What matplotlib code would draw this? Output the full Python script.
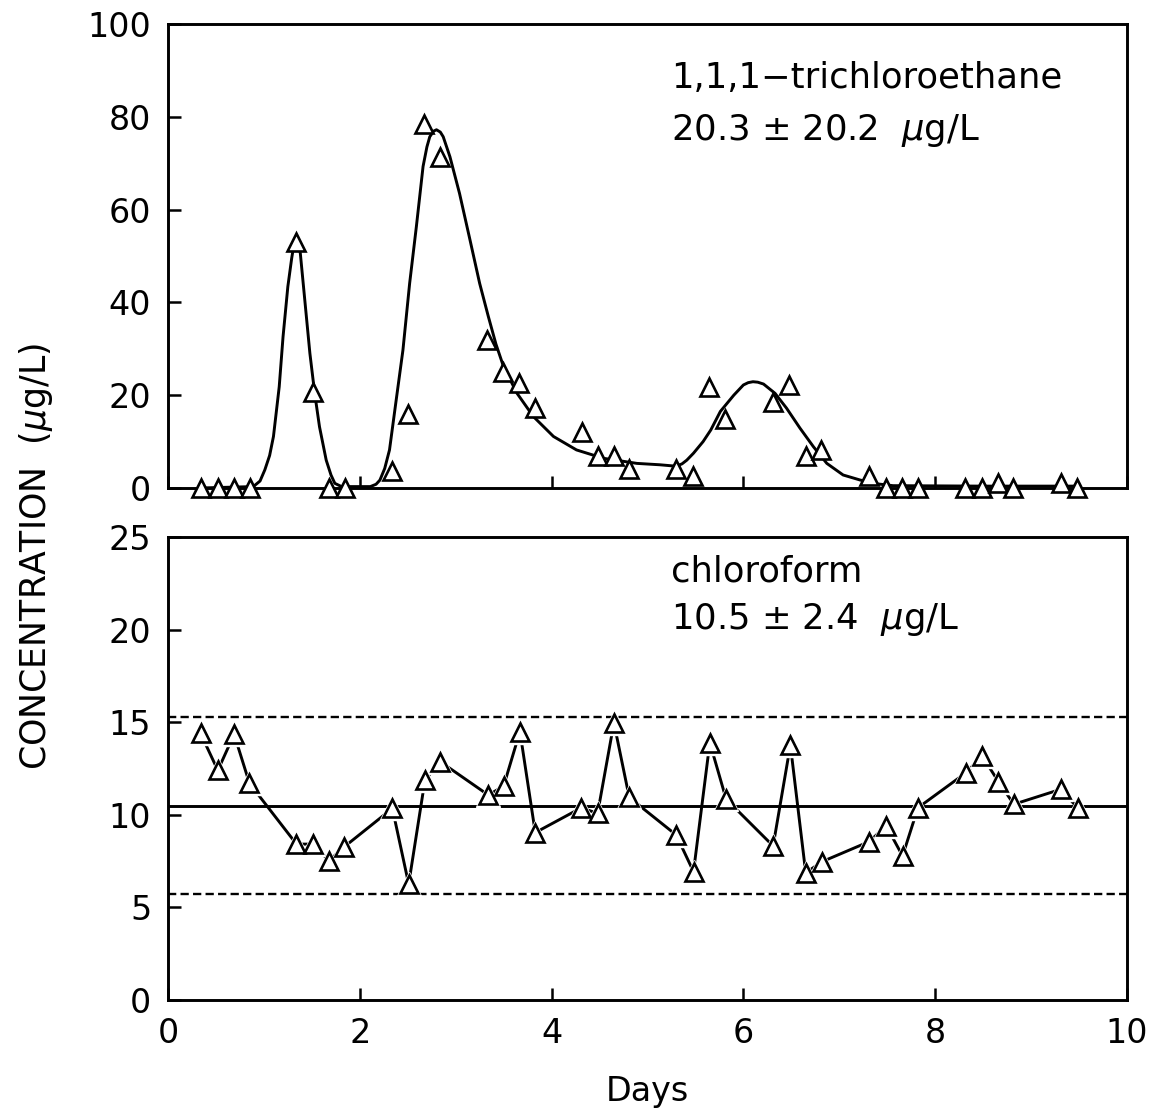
import matplotlib
matplotlib.use("Agg")
import matplotlib.pyplot as plt

# --- 1,1,1-trichloroethane: measured concentrations (ug/L) ---
tca_days = [0.34, 0.52, 0.69, 0.86, 1.33, 1.51, 1.68, 1.85, 2.34, 2.50,
            2.67, 2.84, 3.33, 3.49, 3.66, 3.83, 4.32, 4.48, 4.65, 4.81,
            5.30, 5.47, 5.64, 5.81, 6.31, 6.48, 6.65, 6.81, 7.31, 7.49,
            7.65, 7.82, 8.31, 8.49, 8.65, 8.81, 9.31, 9.48]
tca_conc = [0.0, 0.0, 0.0, 0.0, 53.0, 20.7, 0.0, 0.0, 3.7, 15.9,
            78.4, 71.3, 31.9, 25.0, 22.6, 17.2, 12.1, 6.9, 6.9, 4.1,
            4.1, 2.6, 21.8, 14.9, 18.5, 22.2, 6.9, 8.2, 2.6, 0.0,
            0.0, 0.0, 0.0, 0.0, 1.0, 0.0, 1.0, 0.0]

# --- 1,1,1-trichloroethane: fitted curve ---
fit_days = [0.34, 0.89, 0.96, 1.01, 1.06, 1.10, 1.16, 1.20, 1.25, 1.29,
            1.31, 1.33, 1.35, 1.38, 1.43, 1.48, 1.53, 1.58, 1.65, 1.70,
            1.74, 1.81, 2.11, 2.17, 2.21, 2.26, 2.31, 2.38, 2.45, 2.52,
            2.59, 2.66, 2.70, 2.73, 2.77, 2.80, 2.84, 2.87, 2.94, 3.04,
            3.15, 3.25, 3.34, 3.42, 3.50, 3.64, 3.81, 4.02, 4.26, 4.54,
            4.89, 5.13, 5.24, 5.30, 5.36, 5.41, 5.48, 5.58, 5.66, 5.76,
            5.90, 6.00, 6.05, 6.10, 6.15, 6.21, 6.33, 6.45, 6.59, 6.73,
            6.87, 7.04, 7.22, 7.39, 7.56, 8.50, 9.50]
fit_conc = [0.0, 0.3, 1.5, 3.9, 7.0, 11.1, 21.8, 32.6, 43.4, 49.5,
            52.0, 53.3, 52.8, 50.6, 39.8, 29.0, 20.4, 13.2, 6.0, 2.8,
            1.0, 0.3, 0.3, 0.8, 1.7, 4.2, 8.2, 19.0, 29.7, 44.1,
            56.3, 69.3, 73.5, 75.7, 76.9, 77.2, 76.7, 75.7, 71.4, 63.5,
            53.4, 44.1, 37.0, 31.0, 26.1, 20.4, 15.4, 11.1, 8.2, 6.4,
            5.3, 5.0, 4.8, 4.7, 5.2, 6.0, 7.5, 10.0, 12.5, 16.5,
            20.0, 22.2, 22.7, 22.9, 22.8, 22.4, 20.4, 17.2, 12.9, 8.9,
            5.3, 2.8, 1.7, 0.9, 0.5, 0.4, 0.4]

# --- chloroform: measured concentrations (ug/L) ---
chl_days = [0.34, 0.52, 0.69, 0.85, 1.34, 1.51, 1.68, 1.84, 2.34, 2.51,
            2.68, 2.84, 3.34, 3.50, 3.67, 3.83, 4.31, 4.48, 4.65, 4.81,
            5.30, 5.48, 5.65, 5.82, 6.31, 6.49, 6.65, 6.82, 7.31, 7.49,
            7.66, 7.82, 8.32, 8.49, 8.66, 8.82, 9.31, 9.49]
chl_conc = [14.4, 12.4, 14.35, 11.7, 8.42, 8.42, 7.52, 8.28, 10.35, 6.26,
            11.88, 12.87, 11.07, 11.55, 14.5, 9.04, 10.38, 10.08, 14.97, 10.94,
            8.91, 6.93, 13.9, 10.85, 8.32, 13.77, 6.87, 7.47, 8.55, 9.4,
            7.78, 10.38, 12.27, 13.17, 11.79, 10.57, 11.38, 10.35]

# Summary statistics (mean, standard deviation)
tca_mean, tca_sd = 20.3, 20.2
chl_mean, chl_sd = 10.5, 2.4

top_yticks = [0, 20, 40, 60, 80, 100]
bot_yticks = [0, 5, 10, 15, 20, 25]
xticks = [0, 2, 4, 6, 8, 10]

plt.rcParams["font.family"] = ["DejaVu Sans"]
plt.rcParams["mathtext.fontset"] = "dejavusans"

fig = plt.figure(figsize=(11.52, 11.2), dpi=100)
ax1 = fig.add_axes([0.1458, 0.5643, 0.8325, 0.4143])
ax2 = fig.add_axes([0.1458, 0.1071, 0.8325, 0.4134])

LW = 2.1
marker_kw = dict(marker="^", ms=12.5, mfc="white", mec="black", mew=1.9, ls="none")

# Top panel: fitted curve and measurements
ax1.plot(fit_days, fit_conc, color="black", lw=LW, zorder=2,
         solid_joinstyle="round")
ax1.plot(tca_days, tca_conc, zorder=4, clip_on=False, **marker_kw)

# Bottom panel: mean and +/- 2 SD bounds
ax2.axhline(chl_mean, color="black", lw=LW, zorder=1)
for bound in (chl_mean + 2 * chl_sd, chl_mean - 2 * chl_sd):
    ax2.axhline(bound, color="black", lw=1.7, ls=(0, (3.5, 1.8)), zorder=1)
ax2.plot(chl_days, chl_conc, color="black", lw=LW, zorder=2)
ax2.plot(chl_days, chl_conc, marker="^", ms=17.5, mfc="white", mec="white",
         ls="none", zorder=3)
ax2.plot(chl_days, chl_conc, zorder=4, **marker_kw)

for ax, yt in ((ax1, top_yticks), (ax2, bot_yticks)):
    ax.set_xlim(0, 10)
    ax.set_ylim(yt[0], yt[-1])
    ax.set_xticks(xticks)
    ax.set_yticks(yt)
    ax.tick_params(direction="in", length=9, width=1.8, labelsize=24,
                   top=False, right=False, pad=12)
    for s in ax.spines.values():
        s.set_linewidth(2.1)

ax1.tick_params(labelbottom=False)

ax2.set_xlabel("Days", fontsize=24, labelpad=18)
fig.text(0.031, 0.503, r"CONCENTRATION  ($\mu$g/L)", rotation=90,
         ha="center", va="center", fontsize=25)

ax1.text(0.525, 0.884, "1,1,1\u2212trichloroethane", transform=ax1.transAxes,
         fontsize=25.5, ha="left", va="center")
ax1.text(0.525, 0.770, r"20.3 $\pm$ 20.2  $\mu$g/L", transform=ax1.transAxes,
         fontsize=25.5, ha="left", va="center")
ax2.text(0.525, 0.925, "chloroform", transform=ax2.transAxes,
         fontsize=25.5, ha="left", va="center")
ax2.text(0.525, 0.822, r"10.5 $\pm$ 2.4  $\mu$g/L", transform=ax2.transAxes,
         fontsize=25.5, ha="left", va="center")

fig.savefig("out.png", dpi=100)
